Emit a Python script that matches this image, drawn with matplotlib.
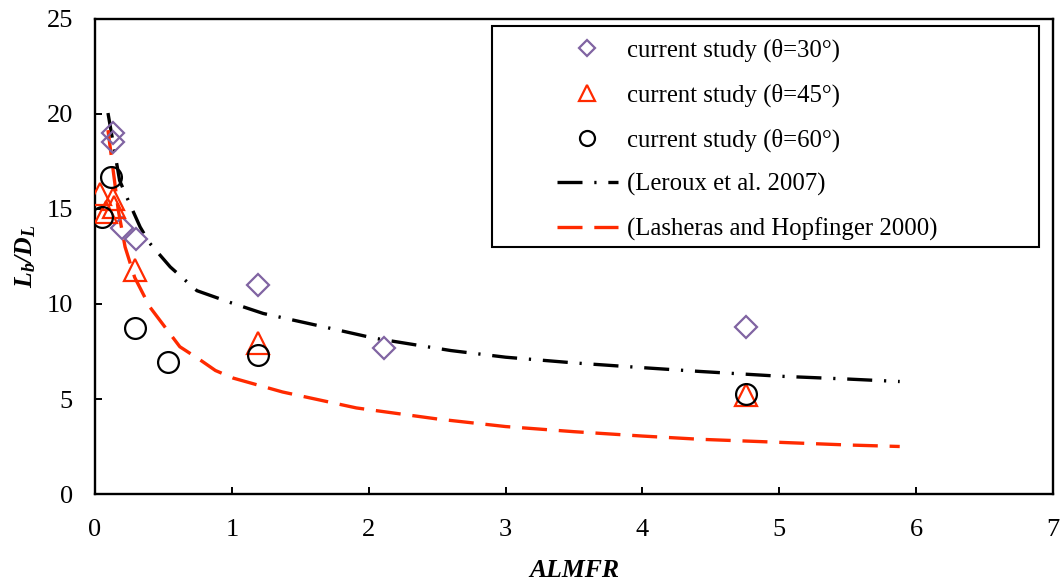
import matplotlib
matplotlib.use("Agg")
import matplotlib.pyplot as plt
from matplotlib.patches import Rectangle

plt.rcParams["font.family"] = ["Liberation Serif", "DejaVu Serif"]
plt.rcParams["mathtext.fontset"] = "custom"
plt.rcParams["mathtext.rm"] = "Liberation Serif"
plt.rcParams["mathtext.it"] = "Liberation Serif:italic"
plt.rcParams["mathtext.bf"] = "Liberation Serif:italic:bold"
plt.rcParams["lines.scale_dashes"] = False

# Measured breakup lengths
x_30 = [0.13, 0.13, 0.20, 0.30, 1.19, 2.11, 4.76]
y_30 = [19.0, 18.5, 14.0, 13.4, 11.0, 7.7, 8.8]

x_45 = [0.04, 0.08, 0.13, 0.14, 0.29, 1.19, 4.76]
y_45 = [15.8, 14.85, 15.5, 15.1, 11.8, 7.95, 5.2]

x_60 = [0.05, 0.12, 0.29, 0.53, 1.19, 4.76]
y_60 = [14.6, 16.7, 8.75, 6.95, 7.3, 5.25]

# Literature correlations
x_leroux = [0.095, 0.18, 0.24, 0.33, 0.40, 0.55, 0.745, 1.0, 1.23, 1.67,
            2.04, 2.6, 3.0, 3.5, 4.0, 4.42, 5.0, 5.5, 5.88]
y_leroux = [20.05, 16.5, 15.5, 14.05, 13.2, 11.95, 10.7, 10.05, 9.5, 8.8,
            8.2, 7.55, 7.2, 6.9, 6.65, 6.45, 6.2, 6.05, 5.92]

x_lasheras = [0.095, 0.13, 0.17, 0.22, 0.29, 0.40, 0.62, 0.77, 0.88, 1.01,
              1.37, 1.91, 2.5, 3.0, 3.5, 4.0, 4.42, 5.0, 5.5, 5.88]
y_lasheras = [19.15, 17.2, 14.95, 13.0, 11.4, 9.85, 7.75, 7.05, 6.5, 6.1,
              5.37, 4.53, 3.95, 3.55, 3.28, 3.05, 2.88, 2.72, 2.58, 2.5]

labels = ["current study (\u03b8=30\u00b0)", "current study (\u03b8=45\u00b0)",
          "current study (\u03b8=60\u00b0)", "(Leroux et al. 2007)",
          "(Lasheras and Hopfinger 2000)"]

purple = "#8064A2"
red = "#FF2A00"

fig = plt.figure(figsize=(10.6, 5.84), dpi=100)
ax = fig.add_axes([0.0896, 0.1541, 0.9038, 0.8134])

h30, = ax.plot(x_30, y_30, linestyle="none", marker="D", ms=11, mfc="none",
               mec=purple, mew=1.6, zorder=4)
h45, = ax.plot(x_45, y_45, linestyle="none", marker="^", ms=16, mfc="none",
               mec=red, mew=1.6, zorder=4)
h60, = ax.plot(x_60, y_60, linestyle="none", marker="o", ms=15, mfc="none",
               mec="black", mew=1.6, zorder=5)
hl, = ax.plot(x_leroux, y_leroux, color="black", lw=2.4,
              linestyle=(0, (18, 8.5, 1.6, 8.5)), zorder=3)
hh, = ax.plot(x_lasheras, y_lasheras, color=red, lw=2.4,
              linestyle=(0, (18, 8.5)), zorder=3)

ax.set_xlim(0, 7)
ax.set_ylim(0, 25)
ax.set_xticks(range(0, 8))
ax.set_yticks(range(0, 26, 5))
ax.tick_params(direction="in", length=5, width=1.4, labelsize=19)
ax.tick_params(axis="x", pad=18)
ax.tick_params(axis="y", pad=16)
for s in ax.spines.values():
    s.set_linewidth(1.7)

ax.set_xlabel("ALMFR", fontsize=18.5, fontweight="bold", fontstyle="italic",
              labelpad=13)
ax.set_ylabel(r"$\mathbf{L_b/D_L}$", fontsize=18.5, labelpad=6)

# Legend frame and entries
ax.add_patch(Rectangle((0.4144, 0.52), 0.571, 0.4653, transform=ax.transAxes,
                       fill=False, edgecolor="black", lw=1.5, zorder=6))
leg = ax.legend([h30, h45, h60, hl, hh], labels, loc="upper left",
                bbox_to_anchor=(0.4823, 0.958), frameon=False,
                fontsize=17.8, borderpad=0, borderaxespad=0,
                handlelength=2.45, handletextpad=0.4, labelspacing=0.86,
                markerscale=0.72)

fig.savefig("out.png", dpi=100)
